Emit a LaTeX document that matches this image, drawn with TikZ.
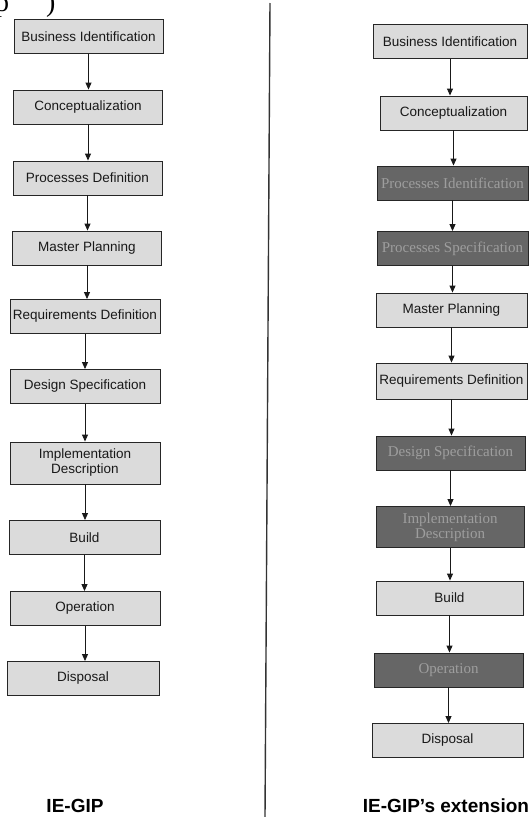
\documentclass[tikz,border=0pt]{standalone}
\usepackage{fontspec}
\setmainfont{Liberation Sans}
\newfontfamily\serifface{Liberation Serif}
\usetikzlibrary{arrows.meta}

\definecolor{boxlight}{HTML}{DBDBDB}
\definecolor{boxdark}{HTML}{666666}
\definecolor{darktext}{HTML}{9E9E9E}

\tikzset{
  stage/.style={draw=black!85, line width=0.9pt, fill=boxlight, minimum height=34pt,
    inner sep=0pt, align=center, text=black!90,
    font=\fontsize{13.5}{15}\selectfont},
  newstage/.style={stage, fill=boxdark, text=darktext,
    font=\serifface\fontsize{15}{15}\selectfont},
  flow/.style={-{Triangle[length=7pt,width=6pt]}, line width=0.9pt, black!90},
  caption/.style={font=\bfseries\fontsize{19}{21}\selectfont},
}

\begin{document}
\begin{tikzpicture}[x=1pt,y=-1pt]
\useasboundingbox (0,0) rectangle (532,817);
\fill[white] (0,0) rectangle (532,817);

% heading fragment cut by the top edge
\begin{scope}
  \clip (0,0) rectangle (532,817);
  \node[anchor=base west, inner sep=0pt, font=\serifface\fontsize{28}{28}\selectfont] (frag1) at (-5,11) {p};
  \node[anchor=base west, inner sep=0pt, font=\serifface\fontsize{28}{28}\selectfont] (frag2) at (46,11) {)};
\end{scope}

% divider between the two processes
\coordinate (divtop) at (270,3);
\coordinate (divbot) at (265,817);
\draw[line width=1.4pt, black!80] (divtop) -- (divbot);

% left: IE-GIP
\node[stage, minimum width=149pt] (l1) at (88.5,36.5) {Business Identification};
\node[stage, minimum width=149pt] (l2) at (88,107) {Conceptualization};
\node[stage, minimum width=149pt] (l3) at (87.5,178) {Processes Definition};
\node[stage, minimum width=149pt] (l4) at (87,248) {Master Planning};
\node[stage, minimum width=150pt] (l5) at (85,316.5) {Requirements Definition};
\node[stage, minimum width=150pt] (l6) at (85,386.5) {Design Specification};
\node[stage, minimum width=150pt, minimum height=42pt] (l7) at (85,463) {Implementation\\Description};
\node[stage, minimum width=151pt] (l8) at (84.5,537.5) {Build};
\node[stage, minimum width=150pt] (l9) at (85,608.5) {Operation};
\node[stage, minimum width=152pt] (l10) at (83,678.5) {Disposal};

\foreach \a/\b in {l1/l2,l2/l3,l3/l4,l4/l5,l5/l6,l6/l7,l7/l8,l8/l9,l9/l10}
  \draw[flow] (\a.south) -- (\a.south |- \b.north);

\node[caption] (cap1) at (75,806) {IE-GIP};

% right: extended IE-GIP
\node[stage, minimum width=154pt] (r1) at (450,41.5) {Business Identification};
\node[stage, minimum width=147pt] (r2) at (453.5,113) {Conceptualization};
\node[newstage, minimum width=151pt] (r3) at (452.5,183) {Processes Identification};
\node[newstage, minimum width=151pt] (r4) at (452.5,248.5) {Processes Specification};
\node[stage, minimum width=151pt] (r5) at (451.5,310) {Master Planning};
\node[stage, minimum width=151pt, minimum height=36pt] (r6) at (451.5,381) {Requirements Definition};
\node[newstage, minimum width=149pt] (r7) at (450.5,453) {Design Specification};
\node[newstage, minimum width=148pt, minimum height=41pt] (r8) at (450,527) {Implementation\\Description};
\node[stage, minimum width=147pt] (r9) at (449.5,598) {Build};
\node[newstage, minimum width=149pt] (r10) at (448.5,670) {Operation};
\node[stage, minimum width=151pt] (r11) at (447.5,740.5) {Disposal};

\foreach \a/\b in {r1/r2,r2/r3,r3/r4,r4/r5,r5/r6,r6/r7,r7/r8,r8/r9,r9/r10,r10/r11}
  \draw[flow] (\a.south) -- (\a.south |- \b.north);

\node[caption] (cap2) at (446,806) {IE-GIP’s extension};
\end{tikzpicture}
\end{document}
